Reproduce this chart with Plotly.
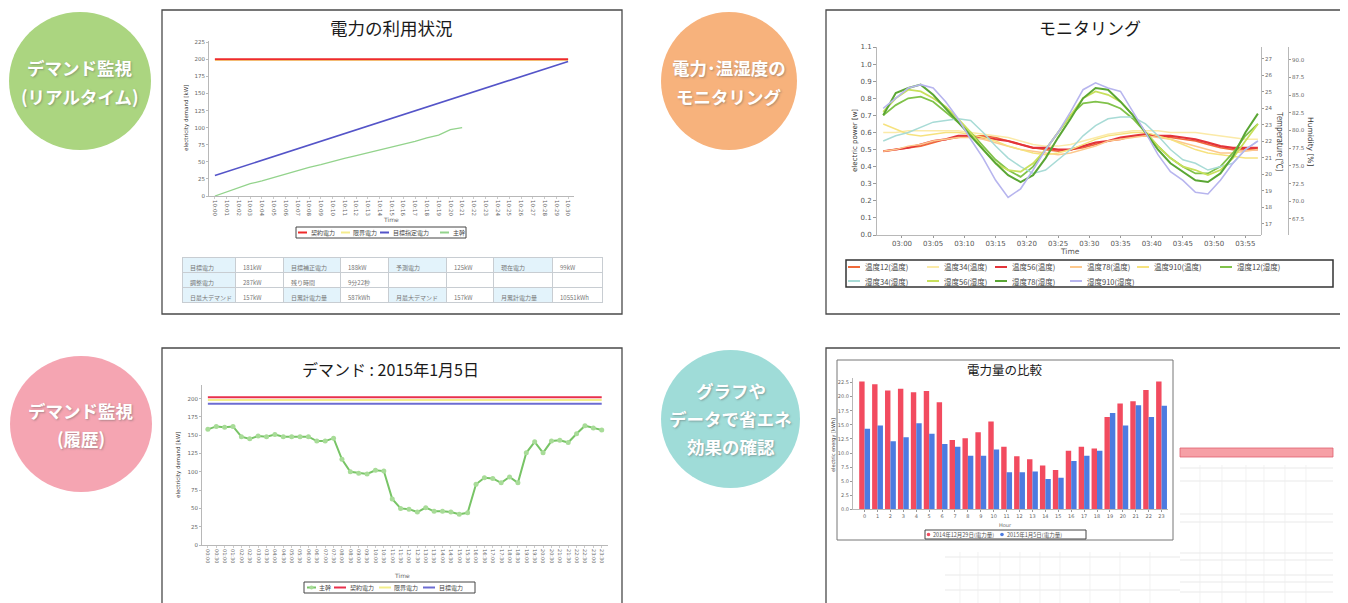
import plotly.graph_objects as go

W, H = 1348, 603
OFF = 8  # page body margin of the browser
def px(x): return (x - OFF) / W
def py(y): return 1 - (y - OFF) / H

FONT = "Noto Sans CJK JP, Noto Sans, sans-serif"
NUMF = "DejaVu Sans"

# ---------------- Panel 1 : 電力の利用状況 ----------------
p1_times = ["10:00","10:01","10:02","10:03","10:04","10:05","10:06","10:07","10:08","10:09",
            "10:10","10:11","10:12","10:13","10:14","10:15","10:16","10:17","10:18","10:19",
            "10:20","10:21","10:22","10:23","10:24","10:25","10:26","10:27","10:28","10:29","10:30"]
p1_contract_kw = 200
p1_limit_kw = 199
p1_target = [30,35.6,41.1,46.7,52.3,57.8,63.4,69,74.5,80.1,85.7,91.2,96.8,102.4,107.9,113.5,
             119.1,124.6,130.2,135.8,141.3,146.9,152.5,158,163.6,169.2,174.7,180.3,185.9,191.4,197]
p1_main = [0,6,12,18,22,27,33,38,42,46,51,55,59,63,68,72,76,80,85,89,97,100]
p1_table_header = ["目標電力","181kW","目標補正電力","188kW","予測電力","125kW","現在電力","99kW"]
p1_table_rows = [["調整電力","日最大デマンド"],["287kW","157kW"],["残り時間","日累計電力量"],
                 ["9分22秒","587kWh"],["","月最大デマンド"],["","157kW"],["","月累計電力量"],["","10551kWh"]]

# ---------------- Panel 2 : モニタリング ----------------
p2_times = ["02:57","02:59","03:01","03:03","03:05","03:07","03:09","03:11","03:13","03:15",
            "03:17","03:19","03:21","03:23","03:25","03:27","03:29","03:31","03:33","03:35",
            "03:37","03:39","03:41","03:43","03:45","03:47","03:49","03:51","03:53","03:55","03:57"]
temp12 = [21.40,21.50,21.61,21.71,21.92,22.12,22.23,22.33,22.33,22.23,22.02,21.81,21.61,21.50,21.40,21.50,
          21.61,21.81,22.02,22.12,22.33,22.33,22.33,22.23,22.12,22.02,21.81,21.61,21.50,21.50,21.50]
temp34 = [22.54,22.54,22.64,22.64,22.64,22.64,22.64,22.54,22.43,22.33,22.23,22.02,21.81,21.71,21.71,21.81,
          22.02,22.23,22.43,22.54,22.64,22.64,22.64,22.54,22.54,22.54,22.43,22.33,22.23,22.12,22.12]
temp56 = [21.40,21.50,21.61,21.81,22.02,22.12,22.33,22.33,22.23,22.12,22.02,21.81,21.61,21.61,21.50,21.50,
          21.71,21.92,22.02,22.23,22.33,22.43,22.33,22.33,22.23,22.12,21.92,21.71,21.61,21.61,21.61]
temp78 = [21.40,21.50,21.71,21.81,22.02,22.12,22.23,22.23,22.12,21.92,21.71,21.50,21.40,21.30,21.19,21.30,
          21.50,21.71,22.02,22.12,22.23,22.33,22.23,22.12,21.92,21.71,21.50,21.30,21.30,21.40,21.50]
temp910 = [23.05,22.74,22.43,22.33,22.43,22.54,22.54,22.43,22.23,22.02,21.71,21.50,21.30,21.19,21.30,21.50,
           21.81,22.12,22.33,22.43,22.54,22.54,22.33,22.12,21.81,21.50,21.30,21.19,21.09,20.99,20.99]
hum12 = [82.13,83.58,84.54,84.78,84.06,82.61,81.17,79.72,77.79,75.86,74.41,73.44,74.89,77.31,79.72,82.13,
         83.82,84.06,83.82,83.10,81.65,79.72,77.79,76.10,74.89,73.93,73.93,74.89,76.82,79.24,80.92]
hum34 = [78.51,79.24,79.72,80.44,81.17,81.41,81.65,81.41,79.72,77.79,76.10,74.89,73.93,74.41,75.86,77.31,
         79.24,80.68,81.65,81.89,81.89,80.92,79.24,77.31,75.86,75.37,74.41,74.89,75.37,77.31,78.51]
hum56 = [82.61,84.54,85.75,85.51,84.54,83.34,81.65,79.72,77.31,75.37,74.41,74.17,75.37,77.31,79.72,82.13,
         84.54,85.51,85.03,84.06,82.13,79.72,77.79,76.10,74.89,74.41,73.69,74.41,76.10,78.51,80.92]
hum78 = [82.13,85.27,85.99,86.47,85.03,83.10,81.17,79.24,77.31,75.37,73.69,72.72,73.69,76.10,78.99,81.65,
         84.54,85.99,85.75,84.06,82.13,79.72,77.31,75.37,74.17,72.96,72.72,73.93,76.34,79.72,82.37]
hum910 = [83.10,84.54,85.99,86.47,85.99,84.06,81.65,78.75,76.10,72.96,70.55,71.76,74.41,77.31,79.72,82.61,
          85.75,86.72,85.99,85.51,82.61,79.72,76.58,74.17,72.96,71.27,71.03,72.96,75.37,77.31,78.51]

# ---------------- Panel 3 : デマンド 2015年1月5日 ----------------
p3_times = ["00:00","00:30","01:00","01:30","02:00","02:30","03:00","03:30","04:00","04:30",
            "05:00","05:30","06:00","06:30","07:00","07:30","08:00","08:30","09:00","09:30",
            "10:00","10:30","11:00","11:30","12:00","12:30","13:00","13:30","14:00","14:30",
            "15:00","15:30","16:00","16:30","17:00","17:30","18:00","18:30","19:00","19:30",
            "20:00","20:30","21:00","21:30","22:00","22:30","23:00","23:30"]
p3_main = [158,162,161,162,148,145,149,148,151,148,148,148,148,142,142,146,117,100,98,97,102,101,
           63,50,49,45,51,46,46,45,42,44,83,92,91,85,93,85,126,141,126,142,143,140,152,163,160,157]
p3_contract_kw = 202
p3_limit_kw = 198
p3_target_kw = 193

# ---------------- Panel 4 : 電力量の比較 ----------------
p4_hours = list(range(24))
p4_day1 = [22.7,22.2,21.1,21.4,20.8,21.0,19.0,12.3,12.6,13.7,15.6,11.1,9.4,8.9,7.8,7.0,
           10.4,11.1,10.8,16.4,18.8,19.2,21.2,22.7]
p4_day2 = [14.3,14.9,12.1,12.8,15.3,13.4,11.6,11.1,9.5,9.5,10.6,6.6,6.6,6.7,5.4,5.6,
           8.6,9.5,10.4,17.1,14.9,18.5,16.4,18.4]

fig = go.Figure()

# ---- panel 1 traces
n1 = len(p1_times)
p1_series = [("契約電力", "#ee2b2b", 2.0), ("限界電力", "#f5ec8e", 2.0),
             ("目標指定電力", "#5454c8", 1.6), ("主幹", "#93d38c", 1.3)]
fig.add_trace(go.Scatter(x=p1_times, y=[p1_limit_kw]*n1, name=p1_series[1][0], mode="lines",
                         line=dict(color=p1_series[1][1], width=2), xaxis="x", yaxis="y"))
fig.add_trace(go.Scatter(x=p1_times, y=[p1_contract_kw]*n1, name=p1_series[0][0], mode="lines",
                         line=dict(color=p1_series[0][1], width=2), xaxis="x", yaxis="y"))
fig.add_trace(go.Scatter(x=p1_times, y=p1_target, name=p1_series[2][0], mode="lines",
                         line=dict(color=p1_series[2][1], width=1.6), xaxis="x", yaxis="y"))
fig.add_trace(go.Scatter(x=p1_times[:len(p1_main)], y=p1_main, name=p1_series[3][0], mode="lines",
                         line=dict(color=p1_series[3][1], width=1.3), xaxis="x", yaxis="y"))

fig.add_trace(go.Table(
    domain=dict(x=[px(182), px(602)], y=[py(304), py(257)]),
    columnwidth=[53, 48, 57, 48, 58, 47, 59, 50],
    header=dict(values=p1_table_header, height=15, align="left",
                fill_color=["#e3f3fb", "white"] * 4, line_color="#c8cdd2",
                font=dict(size=6, color="#777", family=FONT)),
    cells=dict(values=p1_table_rows, height=15, align="left",
               fill_color=[["#e3f3fb", "#e3f3fb"], ["white", "white"], ["white", "#e3f3fb"], ["white", "white"],
                           ["white", "#e3f3fb"], ["white", "white"], ["white", "#e3f3fb"], ["white", "white"]],
               line_color="#c8cdd2", font=dict(size=6, color="#777", family=FONT))))

# ---- panel 2 traces
p2_x = ["2015-01-05 " + t for t in p2_times]
temp_series = [("温度12(温度)", temp12, "#f06a3a", 1.6), ("温度34(温度)", temp34, "#fbeaa8", 1.5),
               ("温度56(温度)", temp56, "#e3343a", 2.2), ("温度78(温度)", temp78, "#fdc88c", 1.5),
               ("温度910(温度)", temp910, "#f6e27e", 1.5)]
hum_series = [("湿度12(湿度)", hum12, "#80c24a", 1.8), ("湿度34(湿度)", hum34, "#a8dbd6", 1.5),
              ("湿度56(湿度)", hum56, "#c8e05c", 1.8), ("湿度78(湿度)", hum78, "#5aa634", 2.0),
              ("湿度910(湿度)", hum910, "#b7b5ee", 1.6)]
# the electric-power axis carries no series in this view; an empty trace keeps its subplot
fig.add_trace(go.Scatter(x=[], y=[], mode="lines", xaxis="x2", yaxis="y2", hoverinfo="skip"))
for name, ys, col, w in hum_series:
    fig.add_trace(go.Scatter(x=p2_x, y=ys, name=name, mode="lines", line=dict(color=col, width=w),
                             xaxis="x2", yaxis="y4"))
for name, ys, col, w in temp_series:
    fig.add_trace(go.Scatter(x=p2_x, y=ys, name=name, mode="lines", line=dict(color=col, width=w),
                             xaxis="x2", yaxis="y3"))

# ---- panel 3 traces
n3 = len(p3_times)
p3_series = [("主幹", "#78c466"), ("契約電力", "#e8304c"), ("限界電力", "#f3ee8a"), ("目標電力", "#6c6cd2")]
fig.add_trace(go.Scatter(x=p3_times, y=[p3_limit_kw]*n3, name=p3_series[2][0], mode="lines",
                         line=dict(color=p3_series[2][1], width=2), xaxis="x3", yaxis="y5"))
fig.add_trace(go.Scatter(x=p3_times, y=[p3_contract_kw]*n3, name=p3_series[1][0], mode="lines",
                         line=dict(color=p3_series[1][1], width=2), xaxis="x3", yaxis="y5"))
fig.add_trace(go.Scatter(x=p3_times, y=[p3_target_kw]*n3, name=p3_series[3][0], mode="lines",
                         line=dict(color=p3_series[3][1], width=2), xaxis="x3", yaxis="y5"))
fig.add_trace(go.Scatter(x=p3_times, y=p3_main, name=p3_series[0][0], mode="lines+markers",
                         line=dict(color=p3_series[0][1], width=2), marker=dict(size=5, color="#a8dc98"),
                         xaxis="x3", yaxis="y5"))

# ---- panel 4 traces
p4_series = [("2014年12月29日(電力量)", "#f24b5f"), ("2015年1月5日(電力量)", "#4d7be0")]
fig.add_trace(go.Bar(x=p4_hours, y=p4_day1, name=p4_series[0][0], marker_color=p4_series[0][1],
                     marker_line_width=0, xaxis="x4", yaxis="y6"))
fig.add_trace(go.Bar(x=p4_hours, y=p4_day2, name=p4_series[1][0], marker_color=p4_series[1][1],
                     marker_line_width=0, xaxis="x4", yaxis="y6"))

tickf = dict(size=5.5, color="#666", family=NUMF)
ax_common = dict(showgrid=False, zeroline=False, showline=True, linecolor="#b8b8b8", linewidth=1,
                 automargin=False)
p2_dom = [py(235), py(47)]

fig.update_layout(
    width=W, height=H, margin=dict(l=0, r=0, t=0, b=0, autoexpand=False),
    paper_bgcolor="white", plot_bgcolor="rgba(0,0,0,0)", showlegend=False,
    font=dict(family=FONT, color="#333"),
    barmode="group", bargap=0.16, bargroupgap=0.0,
    xaxis=dict(domain=[px(209), px(574)], anchor="y", type="category", range=[-0.5, 30.5],
               tickangle=90, tickfont=tickf, ticks="outside", ticklen=2, tickcolor="#ccc", **ax_common),
    yaxis=dict(domain=[py(196), py(40.9)], anchor="x", range=[0, 227], tickvals=list(range(0, 226, 25)),
               tickfont=tickf, ticks="outside", ticklen=2, tickcolor="#bbb", **ax_common),
    xaxis2=dict(domain=[px(877), px(1261)], anchor="y2", type="date",
                range=["2015-01-05 02:56:00", "2015-01-05 03:57:30"], tick0="2015-01-05 03:00:00",
                dtick=300000, tickformat="%H:%M", tickfont=dict(size=7, color="#555", family=NUMF),
                ticks="outside", ticklen=2, tickcolor="#999", **ax_common),
    yaxis2=dict(domain=p2_dom, anchor="x2", range=[0, 1.1], dtick=0.1, tickformat=".1f",
                tickfont=dict(size=7, color="#555", family=NUMF), ticks="outside", ticklen=3,
                tickcolor="#999", **ax_common),
    yaxis3=dict(domain=p2_dom, anchor="x2", side="right", range=[16.333, 27.707],
                tickvals=list(range(17, 28)), tickfont=dict(size=5.5, color="#666", family=NUMF),
                ticks="outside", ticklen=2, tickcolor="#999", **ax_common),
    yaxis4=dict(domain=p2_dom, anchor="free", position=px(1288), side="right", range=[65.24, 91.78],
                tickvals=[67.5, 70, 72.5, 75, 77.5, 80, 82.5, 85, 87.5, 90], tickformat=".1f",
                tickfont=dict(size=5.5, color="#666", family=NUMF),
                ticks="outside", ticklen=2, tickcolor="#999", **ax_common),
    xaxis3=dict(domain=[px(202), px(608)], anchor="y5", type="category", range=[-0.7, 47.75],
                tickangle=90, tickfont=dict(size=5, color="#666", family=NUMF),
                ticks="outside", ticklen=2, tickcolor="#ccc", **ax_common),
    yaxis5=dict(domain=[py(545), py(385)], anchor="x3", range=[0, 218.6], tickvals=list(range(0, 201, 25)),
                tickfont=tickf, ticks="outside", ticklen=2, tickcolor="#bbb", **ax_common),
    xaxis4=dict(domain=[px(853), px(1168)], anchor="y6", range=[-0.9, 23.5], tickvals=p4_hours,
                tickfont=dict(size=5, color="#666", family=NUMF), ticks="outside", ticklen=2,
                tickcolor="#999", **ax_common),
    yaxis6=dict(domain=[py(509.3), py(378)], anchor="x4", range=[0, 23.32],
                tickvals=[0, 2.5, 5, 7.5, 10, 12.5, 15, 17.5, 20, 22.5], tickformat=".1f",
                tickfont=dict(size=5, color="#666", family=NUMF), ticks="outside", ticklen=2,
                tickcolor="#999", **ax_common),
)

shapes = []
ann = []

def rect(x0, y0, x1, y1, line_color, lw, fill="rgba(0,0,0,0)", layer="below"):
    shapes.append(dict(type="rect", xref="paper", yref="paper", x0=px(x0), x1=px(x1), y0=py(y1), y1=py(y0),
                       line=dict(color=line_color, width=lw), fillcolor=fill, layer=layer))

def hline(x0, x1, y, color, lw):
    shapes.append(dict(type="line", xref="paper", yref="paper", x0=px(x0), x1=px(x1), y0=py(y), y1=py(y),
                       line=dict(color=color, width=lw), layer="above"))

def dot(x, y, r, color):
    shapes.append(dict(type="circle", xref="paper", yref="paper", x0=px(x - r), x1=px(x + r),
                       y0=py(y + r), y1=py(y - r), fillcolor=color, line=dict(width=0), layer="above"))

def text(x, y, t, size, color="#222", angle=0, bold=False, shadow=None, family=FONT, xanchor="center"):
    d = dict(xref="paper", yref="paper", x=px(x), y=py(y), text=("<b>%s</b>" % t) if bold else t,
             showarrow=False, xanchor=xanchor, yanchor="middle", textangle=angle,
             font=dict(size=size, color=color, family=family))
    if shadow:
        d["font"]["shadow"] = shadow
    ann.append(d)

# circles
circles = [(9, 12, 151, 150, "#abd580"), (10, 356, 152, 492, "#f5a5b2"),
           (661, 12, 797, 150, "#f7b27c"), (661, 350, 800, 488, "#9fdcd8")]
for x0, y0, x1, y1, c in circles:
    shapes.append(dict(type="circle", xref="paper", yref="paper", x0=px(x0), x1=px(x1), y0=py(y1), y1=py(y0),
                       fillcolor=c, line=dict(width=0), layer="below"))
# panel frames
for x0, y0, x1, y1 in [(162, 10, 622, 314), (826, 10, 1360, 314), (162, 348, 622, 620), (826, 348, 1360, 620)]:
    rect(x0, y0, x1, y1, "#4a4a4a", 1.3)
rect(837, 360, 1173, 540, "#777", 1)
# panel 4 faint table decoration
rect(1180, 448, 1333, 457, "#e06070", 0.8, "#f6a0a6")
for yy in [468, 481, 514, 522, 553, 560, 575, 582, 592]:
    shapes.append(dict(type="line", xref="paper", yref="paper", x0=px(1180), x1=px(1333), y0=py(yy), y1=py(yy),
                       line=dict(color="#e3e3e3", width=0.8), layer="below"))
for yy in [557, 575, 590]:
    shapes.append(dict(type="line", xref="paper", yref="paper", x0=px(945), x1=px(1180), y0=py(yy), y1=py(yy),
                       line=dict(color="#e3e3e3", width=0.8), layer="below"))
for xx in [1200, 1222, 1246, 1264, 1285, 1306]:
    shapes.append(dict(type="line", xref="paper", yref="paper", x0=px(xx), x1=px(xx), y0=py(603), y1=py(465),
                       line=dict(color="#ececec", width=0.7), layer="below"))
for xx in [960, 978, 1000, 1020, 1040, 1060, 1090, 1120, 1150]:
    shapes.append(dict(type="line", xref="paper", yref="paper", x0=px(xx), x1=px(xx), y0=py(603), y1=py(552),
                       line=dict(color="#ececec", width=0.7), layer="below"))

# ---- legends (boxes built from the series lists)
# panel 1
rect(296, 227, 466, 238, "#444", 1, "white", "above")
for (name, col, w), (lx, tx) in zip(p1_series, [(298, 309), (341, 351), (380, 391), (440, 451)]):
    hline(lx, lx + 9, 232.5, col, 2)
    text(tx, 232.5, name, 6, "#444", xanchor="left")
# panel 2
rect(846, 260, 1333, 287, "#333", 1.5, "white", "above")
cols = [848, 927, 995, 1070, 1137, 1220]
for i, (name, ys, col, w) in enumerate(temp_series + hum_series):
    r, c = divmod(i, 6)
    yy = 267 + r * 14
    hline(cols[c], cols[c] + 12, yy, col, 2)
    text(cols[c] + 15, yy, name, 7.5, "#444", xanchor="left")
# panel 3
rect(304, 582, 475, 593, "#444", 1, "white", "above")
for (name, col), (lx, tx) in zip(p3_series, [(307, 317), (334, 348), (379, 392), (423, 437)]):
    hline(lx, lx + (9 if name == "主幹" else 12), 587.5, col, 2)
    if name == "主幹":
        dot(lx + 4.5, 587.5, 2, "#a8dc98")
    text(tx, 587.5, name, 6, "#444", xanchor="left")
# panel 4
rect(925, 530, 1086, 539, "#444", 1, "white", "above")
for (name, col), (mx, tx) in zip(p4_series, [(928.5, 931), (1002, 1005)]):
    dot(mx, 534.5, 1.8, col)
    text(tx, 534.5, name, 5.5, "#555", xanchor="left")

sh = "1px 1px 2px rgba(90,90,90,0.45)"
text(80, 68, "デマンド監視", 17.5, "white", bold=True, shadow=sh)
text(80, 96, "(リアルタイム)", 17.5, "white", bold=True, shadow=sh)
text(81, 410, "デマンド監視", 17.5, "white", bold=True, shadow=sh)
text(81, 438, "(履歴)", 17.5, "white", bold=True, shadow=sh)
text(729, 68, "電力･温湿度の", 17.5, "white", bold=True, shadow=sh)
text(729, 96, "モニタリング", 17.5, "white", bold=True, shadow=sh)
text(731, 390, "グラフや", 17.5, "white", bold=True, shadow=sh)
text(731, 418, "データで省エネ", 17.5, "white", bold=True, shadow=sh)
text(731, 446, "効果の確認", 17.5, "white", bold=True, shadow=sh)

text(391, 28, "電力の利用状況", 17.5, "#1a1a1a")
text(1090, 28, "モニタリング", 17, "#1a1a1a")
text(390, 369, "デマンド : 2015年1月5日", 16, "#1a1a1a")
text(1005, 369, "電力量の比較", 12.5, "#1a1a1a")

text(186, 118, "electricity demand [kW]", 5.5, "#333", angle=-90, family=NUMF)
text(391, 219, "Time", 6, "#666", family=NUMF)
text(855, 141, "electric power [w]", 7, "#333", angle=-90, family=NUMF)
text(1070, 251, "Time", 7.5, "#555", family=NUMF)
text(1281, 141, "Temperature [℃]", 7.5, "#333", angle=90)
text(1311, 141, "Humidity [%]", 7.5, "#333", angle=90, family=NUMF)
text(178, 465, "electricity demand [kW]", 5.5, "#333", angle=-90, family=NUMF)
text(402, 575, "Time", 6, "#666", family=NUMF)
text(833, 445, "electric energy [kWh]", 5, "#333", angle=-90, family=NUMF)
text(1005, 524.5, "Hour", 5, "#666", family=NUMF)

fig.update_layout(shapes=shapes, annotations=ann)
fig.write_html("out.html")
